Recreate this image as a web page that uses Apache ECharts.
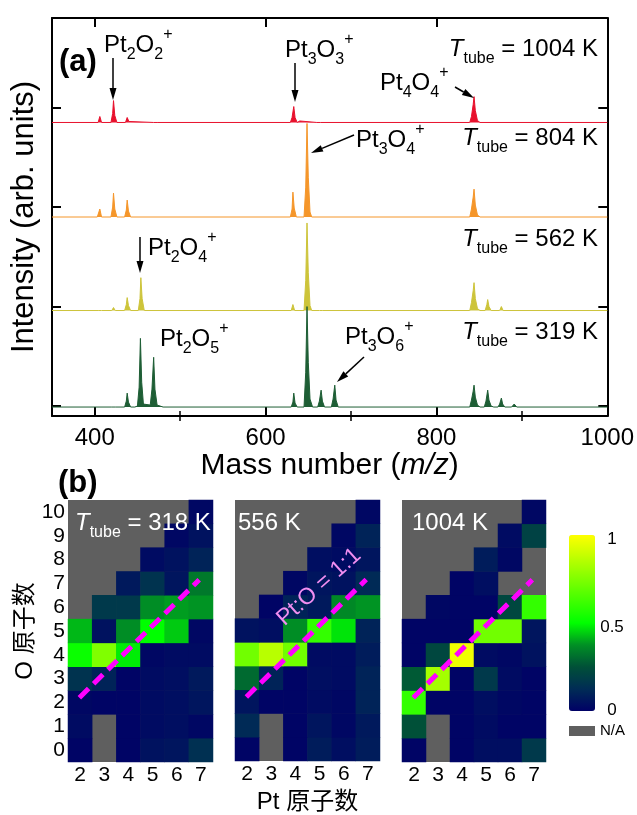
<!DOCTYPE html>
<html>
<head>
<meta charset="utf-8">
<script src="https://cdn.jsdelivr.net/npm/echarts@6.0.0/dist/echarts.min.js"></script>
<style>html,body{margin:0;padding:0;background:#fff}#chart{width:637px;height:815px}</style>
</head>
<body>
<div id="chart"></div>
<script>
var FONT = "'Liberation Sans', Arial, 'Noto Sans CJK SC', sans-serif";

// ---- panel (a): mass spectra, [m/z, intensity above own baseline]
var massTicks = [400, 600, 800, 1000];
var massMinorTicks = [500, 700, 900];
var stackTicks = [0.1, 1.1, 2.1, 3.1];
var traceNames = ['1004 K', '804 K', '562 K', '319 K'];
var traceColors = ['#e8112d', '#f5962a', '#cdc43a', '#1e5e35'];
var traceOffsets = [2.95, 2.0, 1.06, 0.09];

var t1004 = [[350,0],[404,0],[406,0.06],[408,0],[419,0],[421,0.09],[422,0.22],[423.5,0.07],[426,0],
  [436,0],[438,0.05],[440,0.01],[442,0],[469,0],[471,0.015],[473,0],
  [629,0],[631,0.05],[633,0.16],[634.5,0.05],[637,0],[639,0],[640,0.015],[642,0],[660,0],[662,0.01],[664,0],
  [839,0],[841,0.06],[843,0.18],[844,0.26],[845.5,0.12],[848,0.02],[851,0],[1000,0]];
var t804 = [[350,0],[403,0],[406,0.08],[408,0],[419,0],[421,0.1],[422,0.24],[423.5,0.08],[426,0],
  [435,0],[437,0.07],[438,0.17],[439.5,0.06],[442,0],
  [629,0],[631,0.08],[632,0.25],[633.5,0.09],[636,0],[645,0],[647,0.3],[648.5,0.94],[650,0.4],[652,0.05],[654,0],
  [839,0],[841,0.08],[843,0.2],[844,0.28],[845.5,0.12],[848,0.02],[851,0],[1000,0]];
var t562 = [[350,0],[404,0],[406,0.02],[408,0],[420,0],[422,0.03],[424,0],
  [435,0],[437,0.06],[438,0.13],[439.5,0.05],[442,0],[451,0],[453,0.12],[454,0.33],[455.5,0.12],[458,0],
  [630,0],[632,0.06],[634,0],[645,0],[647,0.3],[648.5,0.88],[650,0.38],[652,0.05],[654,0],[663,0],[665,0.02],[667,0],
  [839,0],[841,0.08],[843,0.2],[844,0.28],[845.5,0.12],[848,0.02],[851,0],
  [857,0],[859,0.06],[860,0.11],[861.5,0.04],[864,0],[874,0],[876,0.04],[878,0],[1000,0]];
var t319 = [[350,0],[420,0],[422,0.01],[424,0],
  [435,0],[437,0.06],[438,0.14],[439.5,0.05],[442,0],[447,0],[450,0.01],[452,0.2],[453.5,0.69],[455,0.25],[457,0.03],
  [465,0.02],[467,0.18],[469,0.5],[470.5,0.18],[473,0.02],[480,0],
  [630,0],[632,0.05],[633,0.14],[634.5,0.04],[637,0],[645,0],[647,0.35],[648.5,1.01],[650,0.45],[652,0.08],[655,0],
  [661,0],[663,0.06],[665,0.17],[666.5,0.06],[669,0],[677,0],[679,0.08],[681,0.22],[682.5,0.07],[685,0],
  [839,0],[841,0.07],[843,0.16],[844,0.22],[845.5,0.1],[848,0.02],[851,0],
  [856,0],[858,0.06],[860,0.17],[861.5,0.07],[864,0.01],[867,0],[872,0],[874,0.03],[876,0.09],[877.5,0.03],[880,0],
  [888,0],[891,0.03],[894,0],[1000,0]];
var traces = [t1004, t804, t562, t319];

// ---- panel (b): normalised intensity, rows O = 0..10, columns Pt = 2..7, null = N/A
var ptAtoms = ['2', '3', '4', '5', '6', '7'];
var oAtoms = ['0', '1', '2', '3', '4', '5', '6', '7', '8', '9', '10'];
var mapTemps = ['318 K', '556 K', '1004 K'];
var h318 = [
  [0.01, null, 0.01, 0.05, 0.06, 0.14],
  [0.03, null, 0.01, 0.03, 0.04, 0.02],
  [0.02, 0.01, 0.01, 0.03, 0.04, 0.06],
  [0.15, 0.10, 0.01, 0.03, 0.04, 0.07],
  [0.52, 0.75, 0.48, 0.02, 0.03, 0.03],
  [0.42, 0.05, 0.37, 0.50, 0.44, 0.02],
  [null, 0.17, 0.17, 0.37, 0.39, 0.38],
  [null, null, 0.07, 0.15, 0.06, 0.33],
  [null, null, null, 0.03, 0.05, 0.10],
  [null, null, null, null, 0.02, 0.05],
  [null, null, null, null, null, 0.02]
];
var h556 = [
  [0.01, null, 0.01, 0.08, 0.04, 0.08],
  [0.12, null, 0.01, 0.06, 0.02, 0.07],
  [0.06, 0.01, 0.01, 0.03, 0.02, 0.10],
  [0.30, 0.10, 0.01, 0.04, 0.03, 0.10],
  [0.72, 0.86, 0.72, 0.03, 0.03, 0.08],
  [0.05, 0.04, 0.37, 0.60, 0.47, 0.10],
  [null, 0.01, 0.10, 0.07, 0.36, 0.38],
  [null, null, 0.02, 0.06, 0.05, 0.12],
  [null, null, null, 0.04, 0.03, 0.06],
  [null, null, null, null, 0.02, 0.10],
  [null, null, null, null, null, 0.02]
];
var h1004 = [
  [0.01, null, 0.01, 0.04, 0.04, 0.17],
  [0.25, null, 0.01, 0.03, 0.01, 0.01],
  [0.60, 0.01, 0.01, 0.04, 0.02, 0.01],
  [0.27, 0.82, 0.01, 0.17, 0.03, 0.01],
  [0.01, 0.22, 0.97, 0.03, 0.02, 0.05],
  [0.01, 0.01, 0.01, 0.72, 0.72, 0.06],
  [null, 0.02, 0.01, 0.01, 0.22, 0.60],
  [null, null, 0.01, 0.04, null, null],
  [null, null, null, 0.08, 0.02, null],
  [null, null, null, null, 0.03, 0.20],
  [null, null, null, null, null, 0.02]
];
var maps = [h318, h556, h1004];
var ratioLine = [[1.97, 2.2], [6.93, 7.15]];
var cmap = ['#000066', '#002c55', '#005038', '#009024', '#00ff00', '#40ff00', '#80ff00', '#c0ff00', '#ffff00'];

var chart = echarts.init(document.getElementById('chart'));

function richSet(c) {
  return {
    m: {fontSize: 24, lineHeight: 36, fontFamily: FONT, fill: c, color: c},
    i: {fontSize: 24, lineHeight: 36, fontStyle: 'italic', fontFamily: FONT, fill: c, color: c},
    s: {fontSize: 16, lineHeight: 14, verticalAlign: 'bottom', fontFamily: FONT, fill: c, color: c},
    b: {fontSize: 16, lineHeight: 20, verticalAlign: 'bottom', fontFamily: FONT, fill: c, color: c},
    p: {fontSize: 16, lineHeight: 10, verticalAlign: 'top', fontFamily: FONT, fill: c, color: c}
  };
}

var g = [];
function label(x, y, text, align, c) {
  c = c || '#000';
  g.push({type: 'text', x: x, y: y, z: 100,
    style: {text: text, rich: richSet(c), align: align || 'left', verticalAlign: 'middle', fill: c, font: '24px ' + FONT}});
}
function arrow(x1, y1, x2, y2) {
  var a = Math.atan2(y2 - y1, x2 - x1), L = 12, W = 3.5;
  var bx = x2 - L * Math.cos(a), by = y2 - L * Math.sin(a);
  g.push({type: 'line', z: 100, shape: {x1: x1, y1: y1, x2: bx, y2: by}, style: {stroke: '#000', lineWidth: 1.5}});
  g.push({type: 'polygon', z: 100, shape: {points: [[x2, y2], [bx - W * Math.sin(a), by + W * Math.cos(a)], [bx + W * Math.sin(a), by - W * Math.cos(a)]]},
    style: {fill: '#000'}});
}
function plain(x, y, text, font, align, c, rot) {
  g.push({type: 'text', x: x, y: y, z: 100, rotation: rot || 0,
    style: {text: text, font: font, align: align || 'left', verticalAlign: 'middle', fill: c || '#000'}});
}

plain(59, 62, '(a)', 'bold 31px ' + FONT);
plain(58, 483, '(b)', 'bold 31px ' + FONT);

label(104, 45, '{m|Pt}{s|2}{m|O}{s|2}{p|+}');
arrow(113, 58, 113, 100);
label(285, 50, '{m|Pt}{s|3}{m|O}{s|3}{p|+}');
arrow(295, 63, 295, 102);
label(380, 83, '{m|Pt}{s|4}{m|O}{s|4}{p|+}');
arrow(455, 87, 474, 98);
label(356, 140, '{m|Pt}{s|3}{m|O}{s|4}{p|+}');
arrow(354, 135, 311, 153);
label(148, 248, '{m|Pt}{s|2}{m|O}{s|4}{p|+}');
arrow(140, 237, 140, 273);
label(160, 339, '{m|Pt}{s|2}{m|O}{s|5}{p|+}');
label(345, 337, '{m|Pt}{s|3}{m|O}{s|6}{p|+}');
arrow(364, 357, 337, 382);
var tubeY = [49, 138, 239, 332];
traceNames.forEach(function (n, k) { label(598, tubeY[k], '{i|T}{b|tube}{m| = ' + n + '}', 'right'); });

var mapLeft = [68, 235, 402];
var mapWidth = [145, 145, 144];
label(75, 523, '{i|T}{b|tube}{m| = ' + mapTemps[0] + '}', 'left', '#fff');
label(238, 523, '{m|' + mapTemps[1] + '}', 'left', '#fff');
label(412, 523, '{m|' + mapTemps[2] + '}', 'left', '#fff');
plain(319, 587, 'Pt:O = 1:1', '23px ' + FONT, 'center', '#f08ef0', 0.73);

plain(612, 539, '1', '17px ' + FONT, 'center');
plain(612, 627, '0.5', '17px ' + FONT, 'center');
plain(612, 710, '0', '17px ' + FONT, 'center');
g.push({type: 'rect', shape: {x: 569, y: 726, width: 26, height: 10}, style: {fill: '#5f5f5f'}});
plain(600, 731, 'N/A', '15px ' + FONT, 'left');

var xAxes = [
  {gridIndex: 0, type: 'value', position: 'bottom', min: 350, max: 1000,
    axisLine: {onZero: false, lineStyle: {color: '#000', width: 2}},
    axisTick: {inside: true, length: 9, customValues: massTicks, lineStyle: {color: '#000', width: 2}},
    axisLabel: {customValues: massTicks, fontSize: 24, fontFamily: FONT, color: '#000', margin: 10,
      formatter: function (v) { return String(v); }},
    splitLine: {show: false},
    name: '{n|Mass number (}{i|m/z}{n|)}', nameLocation: 'middle', nameGap: 34,
    nameTextStyle: {rich: {n: {fontSize: 30, fontFamily: FONT, color: '#000'}, i: {fontSize: 30, fontStyle: 'italic', fontFamily: FONT, color: '#000'}}}},
  {gridIndex: 0, type: 'value', position: 'bottom', min: 350, max: 1000,
    axisLine: {show: false}, axisTick: {inside: true, length: 5, customValues: massMinorTicks, lineStyle: {color: '#000', width: 1.5}},
    axisLabel: {show: false}, splitLine: {show: false}},
  {gridIndex: 0, type: 'value', position: 'top', min: 350, max: 1000,
    axisLine: {onZero: false, lineStyle: {color: '#000', width: 2}},
    axisTick: {inside: true, length: 9, customValues: massTicks, lineStyle: {color: '#000', width: 2}},
    axisLabel: {show: false}, splitLine: {show: false}},
  {gridIndex: 0, type: 'value', position: 'top', min: 350, max: 1000,
    axisLine: {show: false}, axisTick: {inside: true, length: 5, customValues: massMinorTicks, lineStyle: {color: '#000', width: 1.5}},
    axisLabel: {show: false}, splitLine: {show: false}}
];
var yAxes = [
  {gridIndex: 0, type: 'value', position: 'left', min: 0, max: 4,
    axisLine: {onZero: false, lineStyle: {color: '#000', width: 2}},
    axisTick: {inside: true, length: 9, customValues: stackTicks, lineStyle: {color: '#000', width: 2}},
    axisLabel: {show: false}, splitLine: {show: false},
    name: 'Intensity (arb. units)', nameLocation: 'middle', nameGap: 12,
    nameTextStyle: {fontSize: 31, fontFamily: FONT, color: '#000'}},
  {gridIndex: 0, type: 'value', position: 'right', min: 0, max: 4,
    axisLine: {onZero: false, lineStyle: {color: '#000', width: 2}},
    axisTick: {inside: true, length: 9, customValues: stackTicks, lineStyle: {color: '#000', width: 2}},
    axisLabel: {show: false}, splitLine: {show: false}}
];
var grids = [{left: 52, top: 18, width: 558, height: 398}];
for (var k = 0; k < 3; k++) {
  grids.push({left: mapLeft[k], top: 500, width: mapWidth[k], height: 262, show: true, backgroundColor: '#5f5f5f', borderWidth: 0});
  xAxes.push({gridIndex: k + 1, type: 'category', data: ptAtoms, position: 'bottom',
    axisLine: {show: false}, axisTick: {show: false},
    axisLabel: {fontSize: 21, fontFamily: FONT, color: '#000', margin: 3},
    name: k === 1 ? 'Pt 原子数' : '', nameLocation: 'middle', nameGap: 29,
    nameTextStyle: {fontSize: 24, fontFamily: FONT, color: '#000'}});
  xAxes.push({gridIndex: k + 1, type: 'value', min: 1.5, max: 7.5, show: false});
  yAxes.push({gridIndex: k + 1, type: 'category', data: oAtoms,
    axisLine: {show: false}, axisTick: {show: false},
    axisLabel: {show: k === 0, interval: 0, fontSize: 21, fontFamily: FONT, color: '#000', margin: 3},
    name: k === 0 ? 'O 原子数' : '', nameLocation: 'middle', nameGap: 28,
    nameTextStyle: {fontSize: 24, fontFamily: FONT, color: '#000'}});
  yAxes.push({gridIndex: k + 1, type: 'value', min: -0.5, max: 10.5, show: false});
}

var series = [];
traces.forEach(function (tr, k) {
  series.push({
    type: 'line', name: traceNames[k], xAxisIndex: 0, yAxisIndex: 0, showSymbol: false, silent: true,
    data: tr.map(function (p) { return [p[0], p[1] + traceOffsets[k]]; }),
    lineStyle: {color: traceColors[k], width: 1},
    areaStyle: {color: traceColors[k], opacity: 1, origin: traceOffsets[k]},
    z: 2 + k
  });
});
maps.forEach(function (mat, k) {
  var d = [];
  mat.forEach(function (row, r) { row.forEach(function (v, c) { if (v !== null) d.push([c, r, v]); }); });
  series.push({type: 'heatmap', xAxisIndex: 4 + 2 * k, yAxisIndex: 2 + 2 * k, data: d, silent: true,
    itemStyle: {borderWidth: 0}, emphasis: {disabled: true}});
});
maps.forEach(function (mat, k) {
  series.push({type: 'line', xAxisIndex: 5 + 2 * k, yAxisIndex: 3 + 2 * k, data: ratioLine, showSymbol: false, silent: true,
    lineStyle: {color: '#ff00ff', width: 5, type: [13, 7], cap: 'butt'}, z: 10});
});

chart.setOption({
  backgroundColor: '#fff',
  animation: false,
  grid: grids,
  xAxis: xAxes,
  yAxis: yAxes,
  visualMap: {type: 'continuous', min: 0, max: 1, seriesIndex: [4, 5, 6], left: 569, top: 535, padding: 0,
    itemWidth: 26, itemHeight: 176, calculable: false, inRange: {color: cmap}},
  series: series,
  graphic: g
});
</script>
</body>
</html>
